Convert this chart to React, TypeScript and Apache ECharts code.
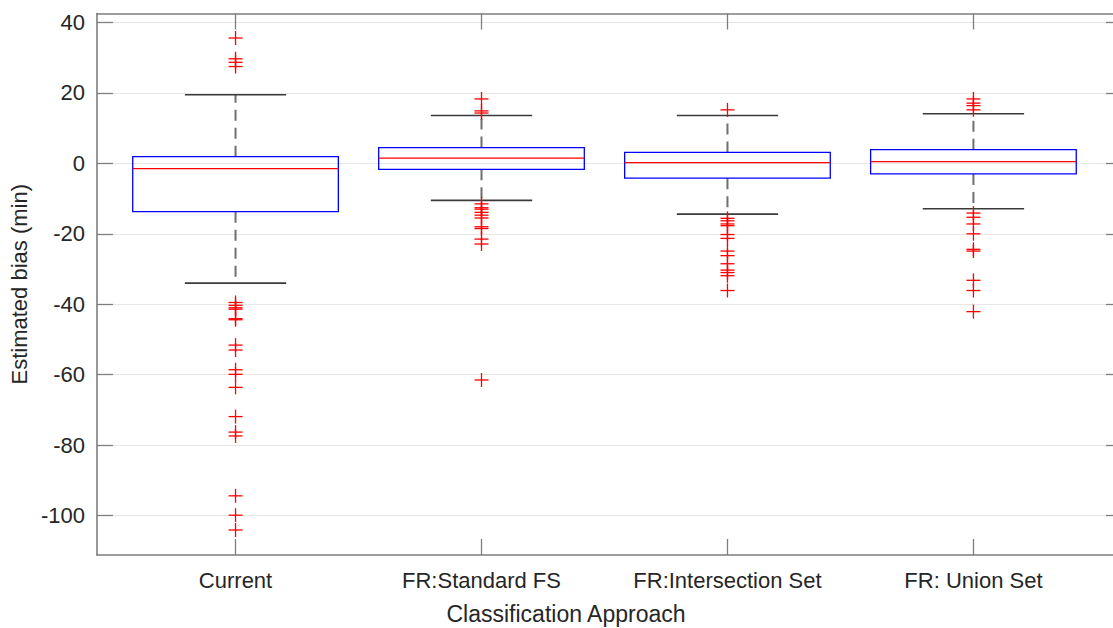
import React, { useEffect, useRef } from "react";
import * as echarts from "echarts";

// Classification approaches along the x axis
const categories = ["Current", "FR:Standard FS", "FR:Intersection Set", "FR: Union Set"];

// Box statistics per approach: [lower whisker, Q1, median, Q3, upper whisker]
const boxStats = [
  [-34.0, -13.7, -1.5, 1.9, 19.5],
  [-10.5, -1.7, 1.5, 4.5, 13.6],
  [-14.4, -4.2, 0.2, 3.1, 13.6],
  [-12.9, -3.0, 0.5, 3.9, 14.1],
];

// Outliers per approach
const outliersCurrent = [
  35.6, 29.7, 28.7, 27.5, -39.5, -40.3, -41.0, -41.4, -44.1, -44.4, -51.6, -53.0, -58.6, -59.9,
  -63.6, -71.9, -76.3, -77.4, -94.4, -99.9, -104.1,
];
const outliersStandard = [
  18.3, 14.9, 14.3, -11.5, -12.6, -13.0, -13.9, -14.7, -15.5, -18.0, -18.5, -21.5, -22.9, -61.5,
];
const outliersIntersection = [
  15.2, -15.6, -16.3, -17.2, -17.7, -20.2, -21.3, -24.9, -26.2, -28.5, -30.3, -31.0, -31.9, -36.1,
];
const outliersUnion = [
  18.3, 17.1, 16.4, 15.2, -14.1, -15.3, -17.2, -20.0, -24.4, -24.9, -33.2, -36.1, -42.1,
];
const outlierGroups = [outliersCurrent, outliersStandard, outliersIntersection, outliersUnion];

// Axis tick values
const yTicks = [-100, -80, -60, -40, -20, 0, 20, 40];
const xTicks = [1, 2, 3, 4];

const FONT = "'Liberation Sans', Arial, Helvetica, sans-serif";
const AXIS_COLOR = "#7d7d7d";
const TEXT_COLOR = "#262626";

export default function App() {
  const ref = useRef<HTMLDivElement>(null);

  useEffect(() => {
    if (!ref.current) return;
    const chart = echarts.init(ref.current, undefined, { renderer: "svg" });

    const boxData = boxStats.map((s, i) => [i + 1, ...s]);
    const outlierData: number[][] = [];
    outlierGroups.forEach((g, i) => g.forEach((v) => outlierData.push([i + 1, v])));

    const BOX_HALF = 0.418;
    const CAP_HALF = 0.206;

    const renderBox = (params: any, api: any) => {
      const x = api.value(0);
      const low = api.value(1);
      const q1 = api.value(2);
      const med = api.value(3);
      const q3 = api.value(4);
      const high = api.value(5);
      const pLow = api.coord([x, low]);
      const pQ1 = api.coord([x, q1]);
      const pMed = api.coord([x, med]);
      const pQ3 = api.coord([x, q3]);
      const pHigh = api.coord([x, high]);
      const left = api.coord([x - BOX_HALF, med])[0];
      const right = api.coord([x + BOX_HALF, med])[0];
      const capL = api.coord([x - CAP_HALF, med])[0];
      const capR = api.coord([x + CAP_HALF, med])[0];
      const whiskerStyle = { stroke: "#6f6f6f", lineWidth: 2, lineDash: [11, 7] };
      const capStyle = { stroke: "#3a3a3a", lineWidth: 1.6 };
      return {
        type: "group",
        children: [
          { type: "line", shape: { x1: pQ3[0], y1: pQ3[1], x2: pHigh[0], y2: pHigh[1] }, style: whiskerStyle },
          { type: "line", shape: { x1: pQ1[0], y1: pQ1[1], x2: pLow[0], y2: pLow[1] }, style: whiskerStyle },
          { type: "line", shape: { x1: capL, y1: pHigh[1], x2: capR, y2: pHigh[1] }, style: capStyle },
          { type: "line", shape: { x1: capL, y1: pLow[1], x2: capR, y2: pLow[1] }, style: capStyle },
          {
            type: "rect",
            shape: { x: left, y: pQ3[1], width: right - left, height: pQ1[1] - pQ3[1] },
            style: { fill: "none", stroke: "#0000ff", lineWidth: 1.3 },
          },
          {
            type: "line",
            shape: { x1: left, y1: pMed[1], x2: right, y2: pMed[1] },
            style: { stroke: "#ff0000", lineWidth: 1.3 },
          },
        ],
      };
    };

    const renderPlus = (params: any, api: any) => {
      const p = api.coord([api.value(0), api.value(1)]);
      const h = 7;
      const style = { stroke: "#ff0000", lineWidth: 1.3 };
      return {
        type: "group",
        children: [
          { type: "line", shape: { x1: p[0] - h, y1: p[1], x2: p[0] + h, y2: p[1] }, style },
          { type: "line", shape: { x1: p[0], y1: p[1] - h, x2: p[0], y2: p[1] + h }, style },
        ],
      };
    };

    const axisLine = { show: true, onZero: false, lineStyle: { color: AXIS_COLOR, width: 1.6 } };
    const tickStyle = { color: AXIS_COLOR, width: 1.3 };

    chart.setOption({
      animation: false,
      backgroundColor: "#ffffff",
      grid: { left: 95.5, top: 13.5, right: 1, bottom: 73, containLabel: false },
      xAxis: [
        {
          type: "value",
          min: 0.4365,
          max: 4.604,
          position: "bottom",
          axisLine,
          axisTick: { show: true, inside: true, length: 16, lineStyle: tickStyle, customValues: xTicks },
          axisLabel: {
            show: true,
            customValues: xTicks,
            formatter: (v: number) => categories[Math.round(v) - 1] ?? "",
            color: TEXT_COLOR,
            fontSize: 22,
            fontFamily: FONT,
            margin: 14,
          },
          splitLine: { show: false },
        },
        {
          type: "value",
          min: 0.4365,
          max: 4.604,
          position: "top",
          axisLine,
          axisTick: { show: true, inside: true, length: 16, lineStyle: tickStyle, customValues: xTicks },
          axisLabel: { show: false },
          splitLine: { show: false },
        },
      ],
      yAxis: [
        {
          type: "value",
          min: -111.2,
          max: 42.56,
          position: "left",
          name: "Estimated bias (min)",
          nameLocation: "middle",
          nameGap: 60,
          nameTextStyle: { color: TEXT_COLOR, fontSize: 22, fontFamily: FONT },
          axisLine,
          axisTick: { show: true, inside: true, length: 16, lineStyle: tickStyle, customValues: yTicks },
          axisLabel: {
            show: true,
            customValues: yTicks,
            color: TEXT_COLOR,
            fontSize: 22,
            fontFamily: FONT,
            margin: 12,
          },
          splitLine: { show: true, lineStyle: { color: "#e6e6e6", width: 1 } },
        },
        {
          type: "value",
          min: -111.2,
          max: 42.56,
          position: "right",
          axisLine,
          axisTick: { show: true, inside: true, length: 16, lineStyle: tickStyle, customValues: yTicks },
          axisLabel: { show: false },
          splitLine: { show: false },
        },
      ],
      graphic: [
        {
          type: "text",
          x: 566,
          y: 614,
          style: {
            text: "Classification Approach",
            fill: TEXT_COLOR,
            font: `23px ${FONT}`,
            align: "center",
            verticalAlign: "middle",
          },
        },
      ],
      series: [
        {
          type: "custom",
          xAxisIndex: 0,
          yAxisIndex: 0,
          renderItem: renderBox,
          data: boxData,
          encode: { x: 0, y: [1, 2, 3, 4, 5] },
          z: 2,
        },
        {
          type: "custom",
          xAxisIndex: 0,
          yAxisIndex: 0,
          renderItem: renderPlus,
          data: outlierData,
          encode: { x: 0, y: 1 },
          z: 3,
        },
      ],
    });

    return () => chart.dispose();
  }, []);

  // The plot frame runs slightly past the right edge of the visible area
  return (
    <div style={{ position: "absolute", left: 0, top: 0, width: 1113, height: 628, overflow: "hidden" }}>
      <div ref={ref} style={{ width: 1123, height: 628 }} />
    </div>
  );
}
